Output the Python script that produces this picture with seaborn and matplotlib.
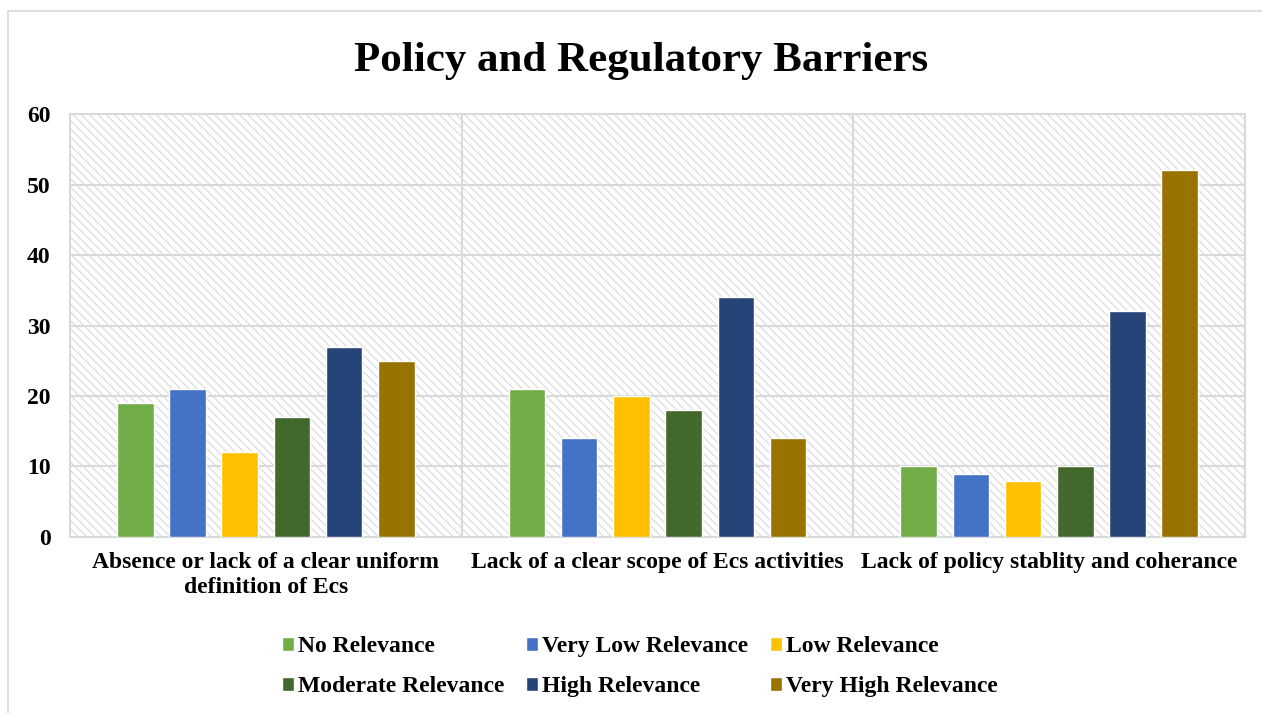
import pandas as pd
import numpy as np
import matplotlib.pyplot as plt
import seaborn as sns
from matplotlib.patches import Rectangle

# data
categories = ['Absence or lack of a clear uniform\ndefinition of Ecs',
              'Lack of a clear scope of Ecs activities',
              'Lack of policy stablity and coherance']
levels = ['No Relevance', 'Very Low Relevance', 'Low Relevance',
          'Moderate Relevance', 'High Relevance', 'Very High Relevance']
no_rel = [19, 21, 10]
very_low = [21, 14, 9]
low = [12, 20, 8]
moderate = [17, 18, 10]
high = [27, 34, 32]
very_high = [25, 14, 52]
colors = ['#70AD47', '#4472C4', '#FFC000', '#43682B', '#264478', '#997300']

rows = []
for lvl, vals in zip(levels, [no_rel, very_low, low, moderate, high, very_high]):
    for cat, v in zip(categories, vals):
        rows.append({'category': cat, 'level': lvl, 'count': v})
df = pd.DataFrame(rows)

sns.set_style('white')
plt.rcParams['font.family'] = ['Liberation Serif', 'DejaVu Serif']
plt.rcParams['text.color'] = 'black'
plt.rcParams['xtick.color'] = 'black'
plt.rcParams['ytick.color'] = 'black'
plt.rcParams['hatch.linewidth'] = 0.8

fig = plt.figure(figsize=(12.62, 7.13), dpi=100)
ax = fig.add_axes([0.0555, 0.2469, 0.931, 0.5931])

# hatched background of the plot area
ax.add_patch(Rectangle((0, 0), 1, 1, transform=ax.transAxes, facecolor='white',
                       edgecolor='#d9d9d9', hatch='\\\\\\\\', linewidth=0, zorder=0))

sns.barplot(data=df, x='category', y='count', hue='level', hue_order=levels,
            palette=colors, gap=0.3, width=0.8, saturation=1, ax=ax, zorder=3)

ax.set_ylim(0, 60)
ax.set_xlim(-0.5, 2.5)
ax.set_yticks(range(0, 61, 10))
for y in range(10, 60, 10):
    ax.axhline(y, color='#d9d9d9', lw=1.5, zorder=1)
for x in [0.5, 1.5]:
    ax.axvline(x, color='#d9d9d9', lw=1.5, zorder=1)
for s in ax.spines.values():
    s.set_color('#d9d9d9')
    s.set_linewidth(1.5)

ax.set_xlabel('')
ax.set_ylabel('')
ax.tick_params(axis='both', length=0, labelsize=17)
ax.tick_params(axis='y', pad=14)
ax.tick_params(axis='x', pad=11)
for lab in ax.get_xticklabels() + ax.get_yticklabels():
    lab.set_fontweight('bold')
    lab.set_linespacing(1.25)

fig.suptitle('Policy and Regulatory Barriers', fontsize=31, fontweight='bold',
             y=0.914, x=0.508, va='center')

# legend reads row by row in the reference, matplotlib fills by column
handles, labels = ax.get_legend_handles_labels()
order = [0, 3, 1, 4, 2, 5]
ax.legend([handles[i] for i in order], [labels[i] for i in order], ncols=3,
          loc='upper center', bbox_to_anchor=(0.485, -0.185),
          frameon=False, prop={'weight': 'bold', 'size': 17}, handlelength=0.5,
          handleheight=0.5, handletextpad=0.2, columnspacing=0.9, labelspacing=0.8)

# outer chart frame
fig.patches.append(Rectangle((0.0063, -0.01), 1.0, 0.994, transform=fig.transFigure,
                             facecolor='none', edgecolor='#d9d9d9', lw=1.2))

plt.savefig('out.png', dpi=100)
